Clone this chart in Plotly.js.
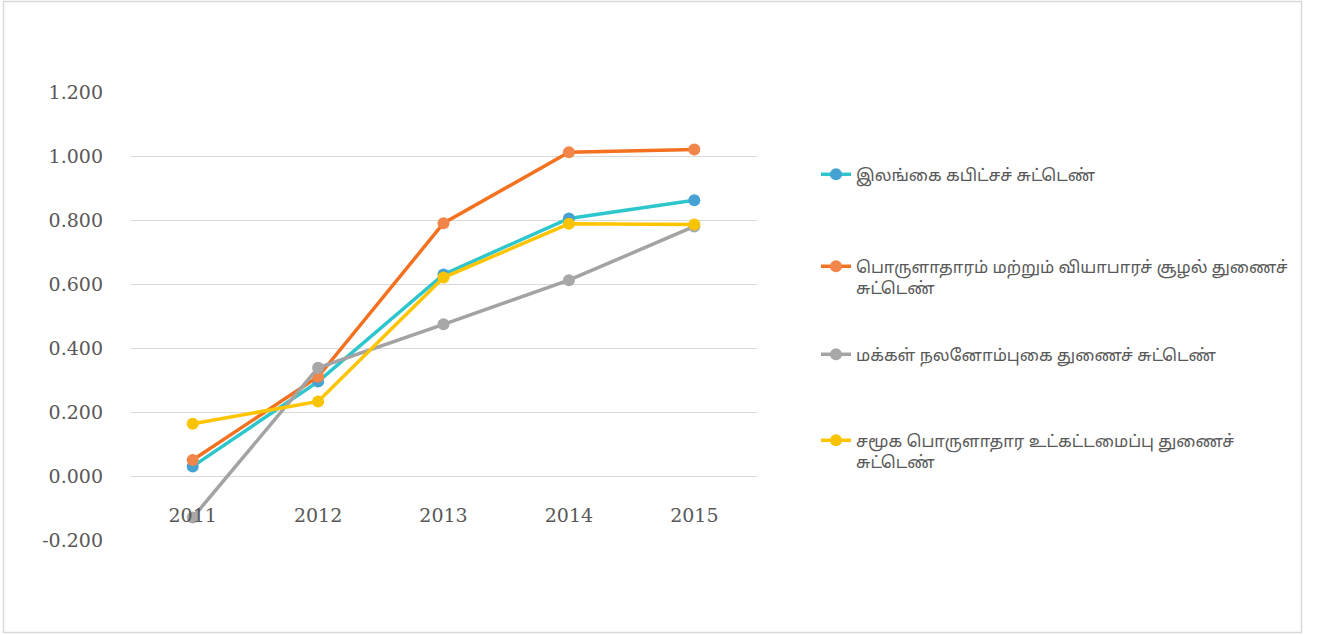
<!DOCTYPE html>
<html>
<head>
<meta charset="utf-8">
<script src="https://cdn.plot.ly/plotly-3.0.1.min.js"></script>
<style>
html,body{margin:0;padding:0;background:#fff;}
#chart{width:1317px;height:635px;}
</style>
</head>
<body>
<div id="chart"></div>
<script>
// ---- data ----
const years = ['2011', '2012', '2013', '2014', '2015'];
const seriesNames = [
  'இலங்கை கபிட்சச் சுட்டெண்',
  'பொருளாதாரம் மற்றும் வியாபாரச் சூழல் துணைச்<br>சுட்டெண்',
  'மக்கள் நலனோம்புகை துணைச் சுட்டெண்',
  'சமூக பொருளாதார உட்கட்டமைப்பு துணைச்<br>சுட்டெண்'
];
const srilankaIndex = [0.030, 0.295, 0.630, 0.805, 0.862];
const economyIndex = [0.050, 0.310, 0.790, 1.012, 1.020];
const welfareIndex = [-0.130, 0.338, 0.474, 0.612, 0.780];
const socioInfraIndex = [0.163, 0.233, 0.620, 0.788, 0.786];
const yTickValues = [-0.2, 0, 0.2, 0.4, 0.6, 0.8, 1.0, 1.2];
const yTickLabels = ['-0.200', '0.000', '0.200', '0.400', '0.600', '0.800', '1.000', '1.200'];

// ---- styles ----
const lineColors = ['#2CC6CC', '#F4711F', '#A3A3A3', '#FFC400'];
const markerColors = ['#46A2D2', '#F2864A', '#A8A8A8', '#F8C400'];
const values = [srilankaIndex, economyIndex, welfareIndex, socioInfraIndex];
const legendIds = ['legend', 'legend2', 'legend3', 'legend4'];

const traces = values.map((v, i) => ({
  type: 'scatter',
  mode: 'lines+markers',
  x: years,
  y: v,
  name: seriesNames[i],
  legend: legendIds[i],
  line: {color: lineColors[i], width: 3.5},
  marker: {color: markerColors[i], size: 12},
  hoverinfo: 'x+y'
}));

// plot-area pixel geometry
const W = 1317, H = 635;
const ml = 130, mr = 560, mt = 92, mb = 95;
const pw = W - ml - mr, ph = H - mt - mb;
const px = p => (p - ml) / pw;
const py = p => (H - mb - p) / ph;

const yMin = -0.2, yMax = 1.2;
const tamilFont = {family: '"Noto Sans Tamil", "Latha", "Lohit Tamil", "Noto Sans", sans-serif', size: 16.6, color: '#595959'};
const legendTops = [157, 249, 337, 423];
const legendX = px(816);

const layout = {
  width: W, height: H,
  margin: {l: ml, r: mr, t: mt, b: mb, pad: 0},
  paper_bgcolor: '#ffffff',
  plot_bgcolor: '#ffffff',
  showlegend: true,
  xaxis: {
    type: 'category',
    range: [-0.5, 4.5],
    anchor: 'free',
    position: (0 - yMin) / (yMax - yMin),
    showgrid: false,
    zeroline: false,
    showline: false,
    ticks: '',
    ticklabelstandoff: 26,
    tickfont: {family: '"DejaVu Serif", serif', size: 19, color: '#595959'},
    fixedrange: true
  },
  yaxis: {
    range: [yMin, yMax],
    tickmode: 'array',
    tickvals: yTickValues,
    ticktext: yTickLabels,
    showgrid: true,
    gridcolor: '#D9D9D9',
    gridwidth: 1,
    zeroline: false,
    showline: false,
    ticks: '',
    ticklabelstandoff: 26,
    tickfont: {family: '"DejaVu Serif", serif', size: 19, color: '#595959'},
    fixedrange: true
  },
  shapes: [{
    type: 'rect', xref: 'paper', yref: 'paper',
    x0: px(3.5), x1: px(1301.5), y0: py(632.5), y1: py(1.5),
    line: {color: '#D9D9D9', width: 1.5}, fillcolor: 'rgba(0,0,0,0)', layer: 'below'
  }]
};
legendIds.forEach((id, i) => {
  layout[id] = {
    x: legendX, xanchor: 'left',
    y: py(legendTops[i]), yanchor: 'top',
    valign: 'top',
    bgcolor: 'rgba(0,0,0,0)',
    font: tamilFont,
    borderwidth: 0
  };
});

Plotly.newPlot('chart', traces, layout, {displayModeBar: false, staticPlot: true});
</script>
</body>
</html>
